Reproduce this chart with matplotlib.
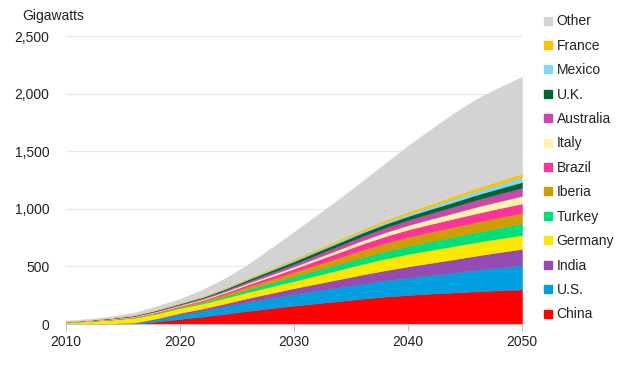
import matplotlib
matplotlib.use("Agg")
import matplotlib.pyplot as plt
from matplotlib.lines import Line2D

plt.rcParams['font.family'] = ['Liberation Sans', 'DejaVu Sans']

years = [2010, 2012, 2014, 2016, 2018, 2020, 2022, 2024, 2026, 2028, 2030,
         2032, 2034, 2036, 2038, 2040, 2042, 2044, 2046, 2048, 2050]

china     = [0, 0, 0, 2, 22, 45, 65, 90, 115, 138, 160, 180, 200, 220, 238, 252, 264, 274, 284, 293, 300]
us        = [1, 2, 4, 8, 22, 40, 52, 64, 77, 88, 100, 110, 120, 130, 140, 150, 160, 172, 185, 197, 210]
india     = [0, 0, 1, 3, 6, 12, 18, 26, 35, 43, 52, 61, 70, 80, 89, 98, 107, 116, 125, 134, 142]
germany   = [14, 24, 34, 42, 43, 42, 44, 48, 52, 57, 62, 72, 82, 92, 101, 108, 112, 115, 117, 119, 121]
turkey    = [0, 0, 0, 1, 3, 5, 9, 15, 24, 33, 41, 47, 52, 57, 63, 69, 75, 81, 87, 93, 99]
iberia    = [2, 3, 4, 5, 7, 9, 13, 18, 24, 30, 37, 46, 55, 64, 72, 78, 82, 85, 88, 90, 92]
brazil    = [0, 0, 0, 1, 3, 5, 8, 13, 19, 24, 30, 38, 46, 54, 60, 65, 69, 72, 76, 79, 82]
italy     = [2, 3, 4, 5, 6, 7, 8, 10, 12, 15, 17, 21, 25, 29, 33, 38, 43, 49, 55, 60, 66]
australia = [1, 2, 3, 4, 5, 7, 9, 12, 16, 20, 23, 28, 33, 38, 42, 46, 51, 56, 62, 67, 72]
uk        = [1, 2, 4, 5, 6, 7, 8, 11, 15, 19, 23, 25, 27, 29, 31, 33, 36, 39, 43, 46, 49]
mexico    = [0, 0, 0, 1, 1, 2, 3, 4, 6, 8, 11, 11, 12, 13, 15, 19, 23, 28, 33, 38, 44]
france    = [1, 1, 2, 3, 3, 4, 5, 6, 8, 10, 12, 14, 15, 17, 18, 20, 22, 24, 26, 28, 30]
other     = [8, 8, 12, 20, 30, 35, 58, 83, 117, 175, 232, 292, 353, 417, 493, 574, 646, 719, 773, 811, 838]

labels = ['China', 'U.S.', 'India', 'Germany', 'Turkey', 'Iberia', 'Brazil',
          'Italy', 'Australia', 'U.K.', 'Mexico', 'France', 'Other']
series = [china, us, india, germany, turkey, iberia, brazil, italy,
          australia, uk, mexico, france, other]
colors = ['#FF0000', '#009FDF', '#954BB4', '#FFE800', '#00DF7A', '#CF9D00',
          '#FF3399', '#FFF5AA', '#CC47AA', '#006631', '#80D8F6', '#FFC000',
          '#D3D3D3']

y_ticks = [0, 500, 1000, 1500, 2000, 2500]
x_ticks = [2010, 2020, 2030, 2040, 2050]

fig = plt.figure(figsize=(6.29, 3.79), dpi=100)
ax = fig.add_axes([0.105, 0.145, 0.725, 0.76])

ax.stackplot(years, *series, colors=colors, linewidth=0.3,
             edgecolor='face')

ax.set_xlim(2010, 2050)
ax.set_ylim(0, 2500)
ax.set_yticks(y_ticks)
ax.set_yticklabels([f"{v:,}" for v in y_ticks])
ax.set_xticks(x_ticks)
ax.grid(axis='y', color='#E8E8E8', linewidth=0.8)
ax.set_axisbelow(True)
for s in ['top', 'right', 'left']:
    ax.spines[s].set_visible(False)
ax.spines['bottom'].set_color('#BFBFBF')
ax.tick_params(axis='y', length=0, pad=12, labelsize=10, labelcolor='#222222')
ax.tick_params(axis='x', length=5, color='#BFBFBF', labelsize=10,
               labelcolor='#222222', pad=3)

fig.text(0.035, 0.958, 'Gigawatts', fontsize=10, color='#222222',
         va='center', ha='left')

handles = [Line2D([], [], marker='s', linestyle='none', markersize=6,
                  markerfacecolor=c, markeredgecolor=c) for c in colors]
leg = fig.legend(handles[::-1], labels[::-1], loc='upper left',
                 bbox_to_anchor=(0.865, 0.962), frameon=False, fontsize=10,
                 handlelength=0.6, handletextpad=0.3, labelspacing=0.75,
                 borderpad=0, borderaxespad=0)
for t in leg.get_texts():
    t.set_color('#222222')

fig.savefig('out.png', dpi=100)
